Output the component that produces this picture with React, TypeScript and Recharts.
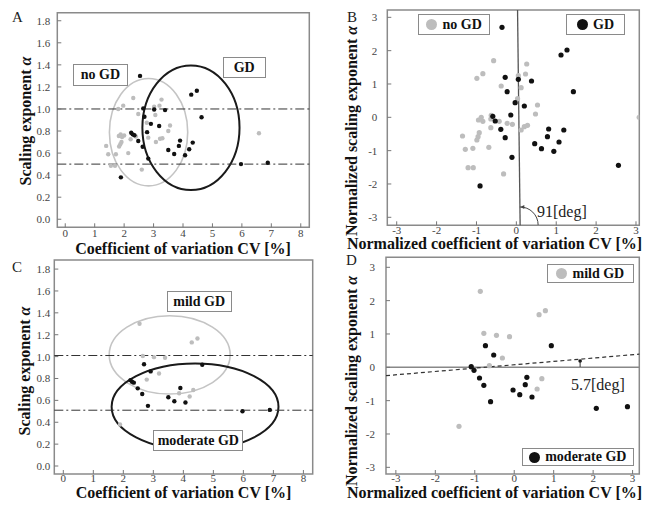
import React from "react";
import {
  ScatterChart,
  Scatter,
  XAxis,
  YAxis,
  ReferenceLine,
  ReferenceArea,
  ReferenceDot,
} from "recharts";

type Pt = { x: number; y: number };

const FONT = "'Liberation Serif', 'Times New Roman', Times, serif";
const GRAY = "#bdbdbd";
const BLACK = "#111";

// ---- CV vs alpha (panels A, C) ----
const noGdCv: Pt[] = [
  { x: 1.39, y: 0.665 }, { x: 1.46, y: 0.59 }, { x: 1.55, y: 0.485 }, { x: 1.69, y: 0.485 },
  { x: 1.72, y: 0.59 }, { x: 1.8, y: 1.0 }, { x: 1.97, y: 1.03 }, { x: 1.82, y: 0.755 },
  { x: 1.88, y: 0.77 }, { x: 1.93, y: 0.745 }, { x: 2.0, y: 0.76 }, { x: 1.83, y: 0.66 },
  { x: 1.87, y: 0.68 }, { x: 1.91, y: 0.7 }, { x: 2.14, y: 0.6 }, { x: 2.22, y: 0.725 },
  { x: 2.31, y: 1.1 }, { x: 2.48, y: 0.955 }, { x: 2.6, y: 0.45 }, { x: 3.02, y: 1.02 },
  { x: 3.06, y: 0.945 }, { x: 3.27, y: 1.085 }, { x: 3.2, y: 1.03 }, { x: 3.56, y: 0.85 },
  { x: 3.5, y: 0.8 }, { x: 2.82, y: 0.74 }, { x: 3.08, y: 0.7 }, { x: 3.22, y: 0.73 },
  { x: 3.3, y: 0.735 }, { x: 6.58, y: 0.78 }, { x: 2.4, y: 0.75 }, { x: 2.77, y: 0.875 },
];

const mildGd: Pt[] = [
  { x: 2.54, y: 1.3 }, { x: 4.28, y: 1.13 }, { x: 4.47, y: 1.165 }, { x: 2.65, y: 1.005 },
  { x: 3.02, y: 0.995 }, { x: 3.39, y: 0.99 }, { x: 3.19, y: 0.845 }, { x: 2.78, y: 0.79 },
  { x: 3.86, y: 0.665 }, { x: 4.33, y: 0.695 }, { x: 4.21, y: 0.635 }, { x: 1.89, y: 0.38 },
];

const moderateGd: Pt[] = [
  { x: 4.63, y: 0.925 }, { x: 2.69, y: 0.93 }, { x: 2.91, y: 0.865 }, { x: 2.24, y: 0.785 },
  { x: 2.29, y: 0.77 }, { x: 2.35, y: 0.762 }, { x: 2.48, y: 0.71 }, { x: 2.63, y: 0.658 },
  { x: 2.82, y: 0.55 }, { x: 3.5, y: 0.628 }, { x: 3.7, y: 0.592 }, { x: 3.9, y: 0.713 },
  { x: 4.07, y: 0.58 }, { x: 5.97, y: 0.5 }, { x: 6.88, y: 0.513 },
];

const gdCv = [...mildGd, ...moderateGd];

// ---- normalized (panels B, D) ----
const noGdNorm: Pt[] = [
  { x: -0.57, y: 1.7 }, { x: 0.26, y: 1.6 }, { x: -0.84, y: 1.31 }, { x: -0.99, y: 1.17 },
  { x: 0.23, y: 1.3 }, { x: 0.05, y: 1.25 }, { x: -0.38, y: 0.94 }, { x: 0.12, y: 0.89 },
  { x: 0.03, y: 0.56 }, { x: 0.53, y: 0.37 }, { x: 0.48, y: 0.1 }, { x: -0.95, y: -0.08 },
  { x: -0.84, y: -0.12 }, { x: -0.88, y: 0.0 }, { x: -0.64, y: -0.05 }, { x: -0.63, y: 0.06 },
  { x: -0.43, y: -0.12 }, { x: -0.23, y: -0.18 }, { x: -0.1, y: -0.21 }, { x: -0.64, y: -0.31 },
  { x: 0.12, y: -0.38 }, { x: 0.2, y: -0.28 }, { x: 0.28, y: -0.24 }, { x: -0.93, y: -0.46 },
  { x: -0.96, y: -0.58 }, { x: -0.99, y: -0.68 }, { x: -1.35, y: -0.56 }, { x: -1.28, y: -0.96 },
  { x: -1.09, y: -0.93 }, { x: -0.69, y: -0.9 }, { x: -1.21, y: -1.51 }, { x: -1.08, y: -1.51 },
  { x: -0.32, y: -1.7 }, { x: 3.08, y: 0.0 },
];

const gdNorm: Pt[] = [
  { x: -0.36, y: 2.7 }, { x: 1.12, y: 1.87 }, { x: 1.27, y: 2.02 }, { x: -0.28, y: 1.2 },
  { x: 0.05, y: 1.14 }, { x: 0.38, y: 1.09 }, { x: -0.23, y: 0.77 }, { x: -0.03, y: 0.44 },
  { x: 0.2, y: 0.34 }, { x: -0.14, y: 0.07 }, { x: -0.59, y: 0.03 }, { x: -0.53, y: -0.11 },
  { x: -0.39, y: -0.36 }, { x: -0.28, y: -0.61 }, { x: -0.11, y: -1.2 }, { x: -0.91, y: -2.06 },
  { x: 0.81, y: -0.35 }, { x: 0.78, y: -0.58 }, { x: 1.07, y: -0.74 }, { x: 0.46, y: -0.79 },
  { x: 0.63, y: -0.94 }, { x: 0.94, y: -1.02 }, { x: 1.19, y: -0.38 }, { x: 1.43, y: 0.77 },
  { x: 2.56, y: -1.44 },
];

const mildNorm: Pt[] = [
  { x: -0.86, y: 2.28 }, { x: 0.63, y: 1.58 }, { x: 0.79, y: 1.7 }, { x: -0.77, y: 1.02 },
  { x: -0.45, y: 0.96 }, { x: -0.12, y: 0.92 }, { x: -0.3, y: 0.28 }, { x: -0.63, y: 0.05 },
  { x: 0.7, y: -0.34 }, { x: 0.58, y: -0.65 }, { x: -1.4, y: -1.77 },
];

const moderateNorm: Pt[] = [
  { x: -0.73, y: 0.65 }, { x: -0.52, y: 0.37 }, { x: 0.94, y: 0.65 }, { x: -1.09, y: 0.02 },
  { x: -1.02, y: -0.09 }, { x: -0.88, y: -0.32 }, { x: -0.77, y: -0.54 }, { x: -0.6, y: -1.03 },
  { x: -0.03, y: -0.68 }, { x: 0.14, y: -0.82 }, { x: 0.45, y: -0.89 }, { x: 0.28, y: -0.52 },
  { x: 0.32, y: -0.3 }, { x: 2.08, y: -1.23 }, { x: 2.87, y: -1.18 },
];

const cvTicks = [0, 1, 2, 3, 4, 5, 6, 7, 8];
const alphaTicks = [0, 0.2, 0.4, 0.6, 0.8, 1.0, 1.2, 1.4, 1.6, 1.8];
const normTicks = [-3, -2, -1, 0, 1, 2, 3];

const dot = (r: number, fill: string) => (p: any) =>
  <circle cx={p.cx} cy={p.cy} r={r} fill={fill} />;

const ellipse = (stroke: string, w: number) => (p: any) => {
  const h = Math.abs(p.height);
  const y = p.height < 0 ? p.y + p.height : p.y;
  return (
    <ellipse cx={p.x + p.width / 2} cy={y + h / 2} rx={p.width / 2} ry={h / 2}
      fill="none" stroke={stroke} strokeWidth={w} />
  );
};

const angleArc = (p: any) => {
  const r = 18;
  const a = (91 * Math.PI) / 180;
  const sx = p.cx + r * Math.cos(a);
  const sy = p.cy - r * Math.sin(a);
  return (
    <g>
      <path d={`M${sx},${sy} A${r},${r} 0 0 1 ${p.cx + r},${p.cy}`} fill="none" stroke="#444" strokeWidth={1} />
      <path d={`M${sx + 0.5},${sy} l4,-2 l0,4 z`} fill="#444" />
    </g>
  );
};

const tickMark = (p: any) => (
  <g>
    <circle cx={p.cx} cy={p.cy} r={1.8} fill={BLACK} />
    <line x1={p.cx} y1={p.cy} x2={p.cx} y2={p.cy + 6} stroke="#333" strokeWidth={1} />
  </g>
);

type PanelProps = {
  left: number;
  top: number;
  width: number;
  height: number;
  margin: { top: number; right: number; bottom: number; left: number };
  yWidth: number;
  xDomain: [number, number];
  yDomain: [number, number];
  xTicks: number[];
  yTicks: number[];
  yFmt?: (v: number) => string;
  xTickMargin: number;
  yTickMargin: number;
  children: React.ReactNode;
};

function Panel(p: PanelProps) {
  const tickStyle = { fontSize: 11, fill: "#444", fontFamily: FONT };
  return (
    <div style={{ position: "absolute", left: p.left, top: p.top }}>
      <ScatterChart width={p.width} height={p.height} margin={p.margin}>
        <XAxis type="number" dataKey="x" domain={p.xDomain} ticks={p.xTicks} allowDataOverflow
          interval={0} axisLine={false} tickSize={-4} tickMargin={p.xTickMargin} height={20}
          tick={tickStyle} tickLine={{ stroke: "#777" }} />
        <YAxis type="number" dataKey="y" domain={p.yDomain} ticks={p.yTicks} allowDataOverflow
          interval={0} axisLine={false} tickSize={-4} tickMargin={p.yTickMargin} width={p.yWidth}
          tickFormatter={p.yFmt} tick={tickStyle} tickLine={{ stroke: "#777" }} />
        {p.children}
        <ReferenceArea x1={p.xDomain[0]} x2={p.xDomain[1]} y1={p.yDomain[0]} y2={p.yDomain[1]}
          fill="none" stroke="#8a8a8a" strokeWidth={1.5} ifOverflow="visible" />
      </ScatterChart>
    </div>
  );
}

function Title({ x, y, rotate, children, size = 16 }: { x: number; y: number; rotate?: boolean; children: React.ReactNode; size?: number }) {
  return (
    <div style={{
      position: "absolute", left: x, top: y, whiteSpace: "nowrap", fontFamily: FONT,
      fontWeight: "bold", fontSize: size, color: "#111", lineHeight: 1,
      transform: `translate(-50%, -50%)${rotate ? " rotate(-90deg)" : ""}`,
    }}>
      {children}
    </div>
  );
}

function Plain({ x, y, children, size = 15 }: { x: number; y: number; children: React.ReactNode; size?: number }) {
  return (
    <div style={{ position: "absolute", left: x, top: y, fontFamily: FONT, fontSize: size, color: "#222", lineHeight: 1, whiteSpace: "nowrap" }}>
      {children}
    </div>
  );
}

function Box({ l, t, r, b, children, marker }: { l: number; t: number; r: number; b: number; children: React.ReactNode; marker?: string }) {
  return (
    <div style={{
      position: "absolute", left: l, top: t, width: r - l, height: b - t, boxSizing: "border-box",
      border: "1.5px solid #8a8a8a", background: "#fff", display: "flex", alignItems: "center",
      justifyContent: "center", fontFamily: FONT, fontWeight: "bold", fontSize: 14, color: "#111",
    }}>
      {marker && (
        <span style={{ display: "inline-block", width: 11, height: 11, borderRadius: "50%", background: marker, marginRight: 5 }} />
      )}
      {children}
    </div>
  );
}

const f1 = (v: number) => v.toFixed(1);
const alpha = <i style={{ fontWeight: "bold" }}>α</i>;

export default function App() {
  return (
    <div style={{ position: "absolute", left: 0, top: 0, width: 665, height: 506, background: "#fff", overflow: "hidden" }}>
      {/* A */}
      <Panel left={0} top={0} width={330} height={250} margin={{ top: 12.7, right: 20.7, bottom: 2.7, left: 0 }}
        yWidth={57.3} xDomain={[-0.27, 8.29]} yDomain={[-0.073, 1.873]} xTicks={cvTicks} yTicks={alphaTicks}
        yFmt={f1} xTickMargin={6} yTickMargin={11}>
        <ReferenceLine y={1.0} stroke="#333" strokeDasharray="9 3 2 3" />
        <ReferenceLine y={0.5} stroke="#333" strokeDasharray="9 3 2 3" />
        <ReferenceArea x1={1.5} x2={4.16} y1={0.303} y2={1.277} shape={ellipse("#c4c4c4", 1.6)} />
        <ReferenceArea x1={2.62} x2={5.92} y1={0.265} y2={1.395} shape={ellipse("#1a1a1a", 2)} />
        <Scatter data={noGdCv} shape={dot(2.2, GRAY)} isAnimationActive={false} />
        <Scatter data={gdCv} shape={dot(2.2, BLACK)} isAnimationActive={false} />
      </Panel>

      {/* B */}
      <Panel left={330} top={0} width={335} height={250} margin={{ top: 10, right: 25.7, bottom: 4.7, left: 0 }}
        yWidth={57.3} xDomain={[-3.236, 3.083]} yDomain={[-3.24, 3.22]} xTicks={normTicks} yTicks={normTicks}
        xTickMargin={4.5} yTickMargin={14}>
        <ReferenceLine segment={[{ x: 0.03, y: 3.22 }, { x: 0.095, y: -3.24 }]} stroke="#555" strokeWidth={1.3} />
        <Scatter data={noGdNorm} shape={dot(2.6, GRAY)} isAnimationActive={false} />
        <Scatter data={gdNorm} shape={dot(2.6, BLACK)} isAnimationActive={false} />
        <ReferenceDot x={0.095} y={-3.23} shape={angleArc} />
      </Panel>

      {/* C */}
      <Panel left={0} top={250} width={330} height={256} margin={{ top: 10, right: 17.3, bottom: 12, left: 0 }}
        yWidth={54.3} xDomain={[-0.3, 8.31]} yDomain={[-0.073, 1.883]} xTicks={cvTicks} yTicks={alphaTicks}
        yFmt={f1} xTickMargin={4.5} yTickMargin={8}>
        <ReferenceLine y={1.01} stroke="#333" strokeDasharray="9 3 2 3" />
        <ReferenceLine y={0.51} stroke="#333" strokeDasharray="9 3 2 3" />
        <ReferenceArea x1={1.53} x2={5.56} y1={0.658} y2={1.374} shape={ellipse("#c4c4c4", 1.6)} />
        <ReferenceArea x1={1.61} x2={7.17} y1={0.146} y2={0.938} shape={ellipse("#1a1a1a", 2)} />
        <Scatter data={mildGd} shape={dot(2.2, GRAY)} isAnimationActive={false} />
        <Scatter data={moderateGd} shape={dot(2.2, BLACK)} isAnimationActive={false} />
      </Panel>

      {/* D */}
      <Panel left={330} top={250} width={335} height={256} margin={{ top: 7.3, right: 25.7, bottom: 12, left: 0 }}
        yWidth={56} xDomain={[-3.25, 3.17]} yDomain={[-3.2, 3.3]} xTicks={normTicks} yTicks={normTicks}
        xTickMargin={4.5} yTickMargin={15}>
        <ReferenceLine y={0} stroke="#888" strokeWidth={1.5} />
        <ReferenceLine segment={[{ x: -3.25, y: -0.25 }, { x: 3.17, y: 0.395 }]} stroke="#333" strokeDasharray="4 3" strokeWidth={1.2} />
        <Scatter data={mildNorm} shape={dot(2.6, GRAY)} isAnimationActive={false} />
        <Scatter data={moderateNorm} shape={dot(2.6, BLACK)} isAnimationActive={false} />
        <ReferenceDot x={1.67} y={0.19} shape={tickMark} />
      </Panel>

      {/* panel letters */}
      <Plain x={12} y={10} size={15}>A</Plain>
      <Plain x={347} y={10} size={15}>B</Plain>
      <Plain x={12} y={260} size={15}>C</Plain>
      <Plain x={346} y={252.5} size={15}>D</Plain>

      {/* axis titles */}
      <Title x={26} y={121} rotate>Scaling exponent {alpha}</Title>
      <Title x={183} y={248.5}>Coefficient of variation CV [%]</Title>
      <Title x={352} y={131} rotate>Normalized scaling exponent {alpha}</Title>
      <Title x={494.5} y={243.5}>Normalized coefficient of variation CV [%]</Title>
      <Title x={25} y={371} rotate>Scaling exponent {alpha}</Title>
      <Title x={183.5} y={493}>Coefficient of variation CV [%]</Title>
      <Title x={352} y={381} rotate>Normalized scaling exponent {alpha}</Title>
      <Title x={494.5} y={493}>Normalized coefficient of variation CV [%]</Title>

      {/* group boxes */}
      <Box l={72.7} t={64.3} r={128.3} b={86}>no GD</Box>
      <Box l={222.7} t={57.3} r={265.7} b={78.3}>GD</Box>
      <Box l={418.3} t={14} r={490} b={35} marker={GRAY}>no GD</Box>
      <Box l={566} t={14} r={625} b={35} marker={BLACK}>GD</Box>
      <Box l={166.7} t={291} r={231.7} b={312.3}>mild GD</Box>
      <Box l={153.3} t={430} r={243.3} b={451}>moderate GD</Box>
      <Box l={546.7} t={264} r={634} b={283.3} marker={GRAY}>mild GD</Box>
      <Box l={521.7} t={448.3} r={634} b={466} marker={BLACK}>moderate GD</Box>

      {/* angle notes */}
      <Plain x={537} y={204} size={16}>91[deg]</Plain>
      <Plain x={571} y={377} size={16}>5.7[deg]</Plain>
    </div>
  );
}
